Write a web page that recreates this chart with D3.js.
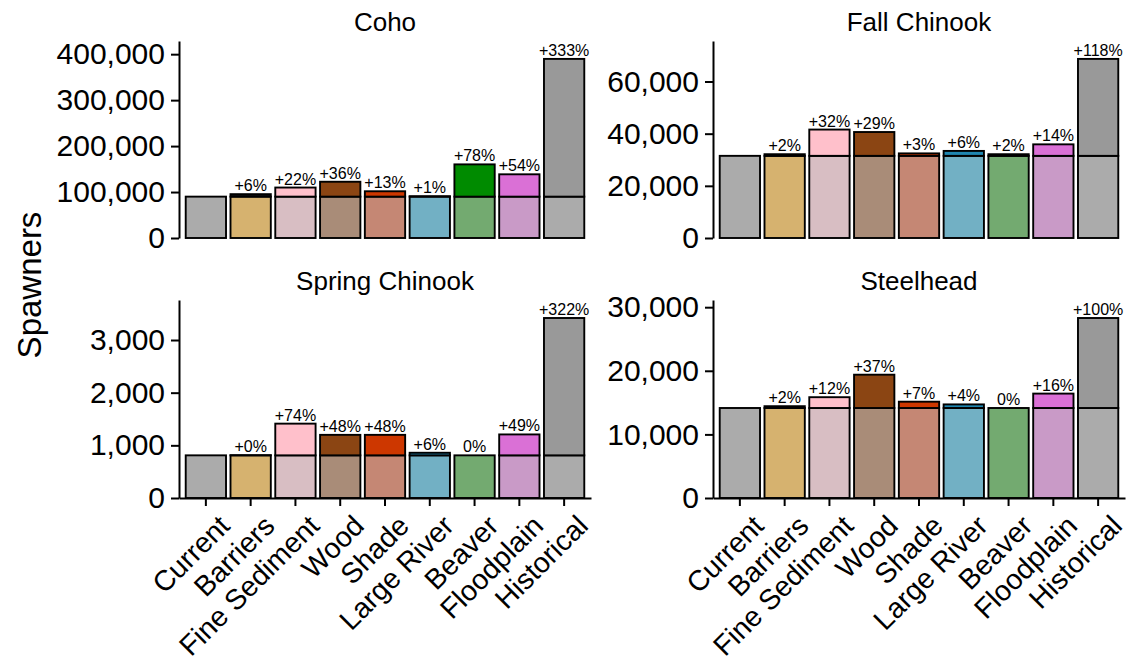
<!DOCTYPE html>
<html>
<head>
<meta charset="utf-8">
<script src="https://cdn.jsdelivr.net/npm/d3@7"></script>
<style>
  html, body { margin: 0; padding: 0; background: #fff; }
  svg { display: block; font-family: "Liberation Sans", Arial, sans-serif; }
</style>
</head>
<body>
<svg id="chart" width="1137" height="664"></svg>
<script>
// ---------- data ----------
const scenarios = ["Current", "Barriers", "Fine Sediment", "Wood", "Shade",
                   "Large River", "Beaver", "Floodplain", "Historical"];

const species = ["Coho", "Fall Chinook", "Spring Chinook", "Steelhead"];

// current (baseline) spawners for each species
const currentSpawners = [90000, 31500, 810, 14150];

// total spawners under each scenario
const cohoValues          = [90000, 95400, 109800, 122400, 101700, 90900, 160200, 138600, 389700];
const fallChinookValues   = [31500, 32130, 41580, 40635, 32445, 33390, 32130, 35910, 68670];
const springChinookValues = [810, 812, 1412, 1199, 1199, 859, 810, 1207, 3418];
const steelheadValues     = [14150, 14433, 15848, 19386, 15141, 14716, 14150, 16414, 28300];

// percentage labels
const cohoLabels          = ["", "+6%", "+22%", "+36%", "+13%", "+1%", "+78%", "+54%", "+333%"];
const fallChinookLabels   = ["", "+2%", "+32%", "+29%", "+3%", "+6%", "+2%", "+14%", "+118%"];
const springChinookLabels = ["", "+0%", "+74%", "+48%", "+48%", "+6%", "0%", "+49%", "+322%"];
const steelheadLabels     = ["", "+2%", "+12%", "+37%", "+7%", "+4%", "0%", "+16%", "+100%"];

// y tick values
const cohoTicks          = [0, 100000, 200000, 300000, 400000];
const fallChinookTicks   = [0, 20000, 40000, 60000];
const springChinookTicks = [0, 1000, 2000, 3000];
const steelheadTicks     = [0, 10000, 20000, 30000];

// colours: lower (current part) and upper (gain)
const lowerColors = ["#ababab", "#d6b26f", "#d8bec3", "#a98c78", "#c58774",
                     "#72b0c4", "#73aa70", "#c99ac7", "#ababab"];
const upperColors = ["#ababab", "#111111", "#ffc0cb", "#8b4513", "#cd3700",
                     "#1f86b0", "#008b00", "#da70d6", "#999999"];

// ---------- layout ----------
const valuesList = [cohoValues, fallChinookValues, springChinookValues, steelheadValues];
const labelsList = [cohoLabels, fallChinookLabels, springChinookLabels, steelheadLabels];
const ticksList  = [cohoTicks, fallChinookTicks, springChinookTicks, steelheadTicks];

const panelW = 412;
const panelLayout = [
  {left: 179, top: 41,  bottom: 238, showX: false},
  {left: 713, top: 41,  bottom: 238, showX: false},
  {left: 179, top: 300, bottom: 498, showX: true},
  {left: 713, top: 300, bottom: 498, showX: true}
];

const svg = d3.select("#chart");
const fmt = d3.format(",");

species.forEach((sp, si) => {
  const L = panelLayout[si];
  const vals = valuesList[si];
  const cur = currentSpawners[si];
  const g = svg.append("g").attr("transform", `translate(${L.left},${L.top})`);
  const h = L.bottom - L.top;

  const x = d3.scaleBand().domain(scenarios).range([0, panelW])
    .paddingInner(0.1).paddingOuter(0.15);
  const y = d3.scaleLinear().domain([0, d3.max(vals) * 1.1]).range([h, 0]);

  // title
  svg.append("text")
    .attr("x", L.left + panelW / 2)
    .attr("y", L.top - 10)
    .attr("text-anchor", "middle")
    .attr("font-size", 26)
    .attr("fill", "#000")
    .text(sp);

  const data = scenarios.map((s, i) => ({s, i, v: vals[i], lab: labelsList[si][i]}));

  // lower segments (current level)
  g.selectAll("rect.lower").data(data).enter().append("rect")
    .attr("class", "lower")
    .attr("x", d => x(d.s))
    .attr("width", x.bandwidth())
    .attr("y", d => y(Math.min(d.v, cur)))
    .attr("height", d => h - y(Math.min(d.v, cur)))
    .attr("fill", d => lowerColors[d.i])
    .attr("stroke", "#000")
    .attr("stroke-width", 1.9);

  // upper segments (gain)
  g.selectAll("rect.upper").data(data.filter(d => d.v > cur)).enter().append("rect")
    .attr("class", "upper")
    .attr("x", d => x(d.s))
    .attr("width", x.bandwidth())
    .attr("y", d => y(d.v))
    .attr("height", d => y(cur) - y(d.v))
    .attr("fill", d => upperColors[d.i])
    .attr("stroke", "#000")
    .attr("stroke-width", 1.9);

  // percentage labels
  g.selectAll("text.pct").data(data.filter(d => d.lab)).enter().append("text")
    .attr("class", "pct")
    .attr("x", d => x(d.s) + x.bandwidth() / 2)
    .attr("y", d => y(d.v) - 3)
    .attr("text-anchor", "middle")
    .attr("font-size", 16)
    .text(d => d.lab);

  // y axis
  const ya = g.append("g").call(d3.axisLeft(y).tickValues(ticksList[si]).tickFormat(fmt)
      .tickSize(8).tickSizeOuter(0).tickPadding(6));
  ya.select(".domain").attr("stroke-width", 2);
  ya.selectAll(".tick line").attr("stroke-width", 2);
  ya.selectAll(".tick text").attr("font-size", 30).attr("fill", "#000")
    .attr("font-family", "Liberation Sans, Arial, sans-serif");

  if (L.showX) {
    const xa = g.append("g").attr("transform", `translate(0,${h})`)
      .call(d3.axisBottom(x).tickSize(8).tickSizeOuter(0).tickPadding(4));
    xa.select(".domain").attr("stroke-width", 2);
    xa.selectAll(".tick line").attr("stroke-width", 2);
    xa.selectAll(".tick text")
      .attr("font-size", 28.5)
      .attr("fill", "#000")
      .attr("font-family", "Liberation Sans, Arial, sans-serif")
      .attr("text-anchor", "end")
      .attr("dy", "0.75em")
      .attr("transform", "translate(2,6) rotate(-45)");
  }
});

// shared y label
svg.append("text")
  .attr("transform", "translate(41,285) rotate(-90)")
  .attr("text-anchor", "middle")
  .attr("font-size", 33)
  .text("Spawners");
</script>
</body>
</html>
